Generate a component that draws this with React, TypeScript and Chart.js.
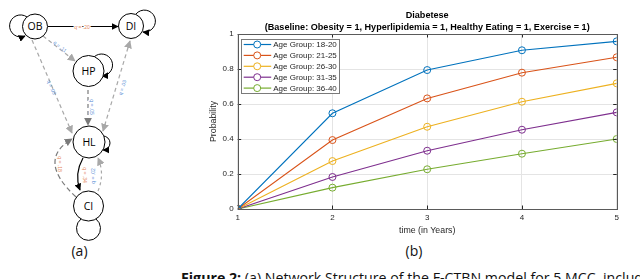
import React, { useEffect, useRef } from "react";
import { Chart, registerables } from "chart.js";

Chart.register(...registerables);

// ---- data ----
const years = [1, 2, 3, 4, 5];
const ageGroups = [
  "Age Group: 18-20",
  "Age Group: 21-25",
  "Age Group: 26-30",
  "Age Group: 31-35",
  "Age Group: 36-40",
];
const group1820 = [0, 0.547, 0.794, 0.907, 0.958];
const group2125 = [0, 0.394, 0.632, 0.779, 0.867];
const group2630 = [0, 0.274, 0.47, 0.613, 0.718];
const group3135 = [0, 0.183, 0.333, 0.453, 0.552];
const group3640 = [0, 0.122, 0.227, 0.316, 0.4];
const seriesValues = [group1820, group2125, group2630, group3135, group3640];
const seriesColors = ["#0072BD", "#D95319", "#EDB120", "#7E2F8E", "#77AC30"];
const titleLines = [
  "Diabetese",
  "(Baseline: Obesity = 1, Hyperlipidemia = 1, Healthy Eating = 1, Exercise = 1)",
];
const xLabel = "time (in Years)";
const yLabel = "Probability";

const FONT = "'Liberation Sans', Arial, Helvetica, sans-serif";
const AXIS = "#262626";

const boxPlugin = {
  id: "matlabBox",
  afterDatasetsDraw(chart: any) {
    const { ctx, chartArea: a, scales } = chart;
    ctx.save();
    ctx.strokeStyle = AXIS;
    ctx.lineWidth = 1;
    ctx.beginPath();
    const tl = 3.5;
    scales.x.ticks.forEach((t: any) => {
      const px = Math.round(scales.x.getPixelForValue(t.value)) + 0.5;
      ctx.moveTo(px, a.bottom);
      ctx.lineTo(px, a.bottom - tl);
      ctx.moveTo(px, a.top);
      ctx.lineTo(px, a.top + tl);
    });
    scales.y.ticks.forEach((t: any) => {
      const py = Math.round(scales.y.getPixelForValue(t.value)) + 0.5;
      ctx.moveTo(a.left, py);
      ctx.lineTo(a.left + tl, py);
      ctx.moveTo(a.right, py);
      ctx.lineTo(a.right - tl, py);
    });
    ctx.stroke();
    ctx.lineWidth = 1;
    ctx.strokeStyle = "#5a5a5a";
    ctx.strokeRect(
      Math.round(a.left) + 0.5,
      Math.round(a.top) + 0.5,
      Math.round(a.right) - Math.round(a.left),
      Math.round(a.bottom) - Math.round(a.top)
    );
    ctx.restore();
  },
  afterDraw(chart: any) {
    // legend drawn inside the plot area (north-west), MATLAB style
    const { ctx, chartArea: a } = chart;
    const x0 = a.left + 3.5;
    const y0 = a.top + 5;
    const w = 97.5;
    const h = 54;
    ctx.save();
    ctx.fillStyle = "#ffffff";
    ctx.fillRect(x0, y0, w, h);
    ctx.strokeStyle = "#7a7a7a";
    ctx.lineWidth = 1;
    ctx.strokeRect(Math.round(x0) + 0.5, Math.round(y0) + 0.5, Math.round(w), Math.round(h));
    ctx.font = `8px ${FONT}`;
    ctx.textBaseline = "middle";
    ctx.textAlign = "left";
    chart.data.datasets.forEach((ds: any, i: number) => {
      const yy = y0 + 5.5 + i * 10.9;
      ctx.strokeStyle = ds.borderColor;
      ctx.lineWidth = 1.2;
      ctx.beginPath();
      ctx.moveTo(x0 + 2.5, yy);
      ctx.lineTo(x0 + 30, yy);
      ctx.stroke();
      ctx.beginPath();
      ctx.fillStyle = "#fff";
      ctx.arc(x0 + 16, yy, 3.5, 0, Math.PI * 2);
      ctx.fill();
      ctx.lineWidth = 1;
      ctx.stroke();
      ctx.fillStyle = AXIS;
      ctx.fillText(ds.label, x0 + 32, yy + 0.5);
    });
    ctx.restore();
  },
};

function DiagramAndCaptions() {
  const gray = "#a8a8a8";
  const dark = "#7a7a7a";
  const blue = "#5b8fd6";
  const orange = "#e48a5e";
  const lbl = { fontSize: 5, fontFamily: FONT } as any;
  const sans = "'Open Sans', 'DejaVu Sans', sans-serif";
  return (
    <svg
      width={640}
      height={279}
      style={{ position: "absolute", left: 0, top: 0 }}
      xmlns="http://www.w3.org/2000/svg"
    >
      <defs>
        <marker id="ab" viewBox="0 0 10 10" refX="9" refY="5" markerWidth="7" markerHeight="7" orient="auto-start-reverse" markerUnits="userSpaceOnUse">
          <path d="M0,0 L10,5 L0,10 z" fill="#000" />
        </marker>
        <marker id="ag" viewBox="0 0 10 10" refX="9" refY="5" markerWidth="8" markerHeight="8" orient="auto-start-reverse" markerUnits="userSpaceOnUse">
          <path d="M0,0 L10,5 L0,10 z" fill={gray} />
        </marker>
        <marker id="ad" viewBox="0 0 10 10" refX="9" refY="5" markerWidth="8" markerHeight="8" orient="auto-start-reverse" markerUnits="userSpaceOnUse">
          <path d="M0,0 L10,5 L0,10 z" fill={dark} />
        </marker>
      </defs>
      {/* self loops */}
      <path d="M 27 17 A 11 11 0 1 0 25 36" fill="none" stroke="#000" strokeWidth={1} markerEnd="url(#ab)" />
      <path d="M 136 14 A 11 11 0 1 1 143 32" fill="none" stroke="#000" strokeWidth={1} markerEnd="url(#ab)" />
      <path d="M 94 57 A 11 11 0 1 1 102 76" fill="none" stroke="#000" strokeWidth={1} markerEnd="url(#ab)" />
      <path d="M 103 136 A 7 7 0 1 1 103 150" fill="none" stroke="#000" strokeWidth={1} markerEnd="url(#ab)" />
      <path d="M 81 219 A 12 12 0 1 0 96 219" fill="none" stroke="#000" strokeWidth={1} />
      {/* edges */}
      <line x1={48} y1={26.5} x2={118} y2={26.5} stroke="#000" strokeWidth={1} markerEnd="url(#ab)" />
      <line x1={43} y1={36} x2={75} y2={61} stroke={gray} strokeWidth={1.2} strokeDasharray="4 3" markerEnd="url(#ag)" />
      <line x1={32} y1={40} x2={72} y2={133} stroke={gray} strokeWidth={1.2} strokeDasharray="4 3" markerEnd="url(#ag)" />
      <line x1={88} y1={90} x2={88} y2={125} stroke={dark} strokeWidth={1.2} strokeDasharray="4 3" markerEnd="url(#ad)" />
      <line x1={130} y1={41} x2={103} y2={131} stroke={gray} strokeWidth={1.2} strokeDasharray="4 3" markerStart="url(#ag)" markerEnd="url(#ag)" />
      <path d="M 83 158 Q 74 174 80 190" fill="none" stroke="#000" strokeWidth={1.2} markerEnd="url(#ab)" />
      <path d="M 76 197 Q 36 160 72 139" fill="none" stroke={dark} strokeWidth={1.2} strokeDasharray="5 3" markerEnd="url(#ad)" />
      <path d="M 98 191 Q 105 174 98 158" fill="none" stroke={gray} strokeWidth={1.2} strokeDasharray="3 3" markerEnd="url(#ag)" />
      {/* edge labels */}
      <text x={82} y={28.5} textAnchor="middle" fill={orange} stroke="#fff" strokeWidth={2} paintOrder="stroke" {...lbl}>q = .20</text>
      <text x={0} y={0} transform="translate(59,48) rotate(38)" textAnchor="middle" fill={blue} {...lbl}>q = .11</text>
      <text x={0} y={0} transform="translate(50,88) rotate(67)" textAnchor="middle" fill={blue} {...lbl}>q = .03</text>
      <text x={0} y={0} transform="translate(90,107) rotate(90)" textAnchor="middle" fill={blue} stroke="#fff" strokeWidth={2} paintOrder="stroke" {...lbl}>q = .05</text>
      <text x={0} y={0} transform="translate(124,88) rotate(-73)" textAnchor="middle" fill={blue} {...lbl}>q = .03</text>
      <text x={0} y={0} transform="translate(83,175) rotate(90)" textAnchor="middle" fill={orange} {...lbl}>q = .34</text>
      <text x={0} y={0} transform="translate(58,164) rotate(90)" textAnchor="middle" fill={orange} {...lbl}>q = .18</text>
      <text x={0} y={0} transform="translate(95,176) rotate(-90)" textAnchor="middle" fill={blue} {...lbl}>q = .02</text>
      {/* nodes */}
      {[
        { n: "OB", x: 35, y: 26.5, r: 12.5 },
        { n: "DI", x: 131, y: 26, r: 12.5 },
        { n: "HP", x: 88.5, y: 71, r: 15.5 },
        { n: "HL", x: 89, y: 142, r: 16 },
        { n: "CI", x: 88.5, y: 206, r: 15 },
      ].map((d) => (
        <g key={d.n}>
          <circle cx={d.x} cy={d.y} r={d.r} fill="#fff" stroke="#000" strokeWidth={1} />
          <text x={d.x} y={d.y + 3.8} textAnchor="middle" fontSize={10.5} fontFamily={sans} fill="#000">{d.n}</text>
        </g>
      ))}
      {/* panel labels */}
      <text x={79.5} y={255.5} textAnchor="middle" fontSize={14} fontFamily={sans} fill="#111">(a)</text>
      <text x={414} y={255.5} textAnchor="middle" fontSize={14} fontFamily={sans} fill="#111">(b)</text>
      <text x={181} y={283} fontSize={14.2} fontFamily={sans} fill="#111">
        <tspan fontWeight="bold">Figure 2:</tspan>
        <tspan> (a) Network Structure of the F-CTBN model for 5 MCC, including</tspan>
      </text>
    </svg>
  );
}

export default function App() {
  const ref = useRef<HTMLCanvasElement | null>(null);

  useEffect(() => {
    if (!ref.current) return;
    const tickFont = { family: FONT, size: 8 };
    const labelFont = { family: FONT, size: 8.8, lineHeight: 1.2 };
    const chart = new Chart(ref.current, {
      type: "line",
      data: {
        datasets: seriesValues.map((vals, i) => ({
          label: ageGroups[i],
          data: years.map((x, j) => ({ x, y: vals[j] })),
          borderColor: seriesColors[i],
          backgroundColor: "rgba(0,0,0,0)",
          borderWidth: 1.1,
          pointRadius: 3.5,
          pointBorderWidth: 1,
          pointBackgroundColor: "rgba(0,0,0,0)",
          pointBorderColor: seriesColors[i],
          tension: 0,
          fill: false,
        })),
      },
      options: {
        responsive: false,
        animation: false,
        devicePixelRatio: 1,
        layout: { padding: { top: 0, left: 0, right: 23.3, bottom: 0 } },
        plugins: {
          legend: { display: false },
          tooltip: { enabled: false },
          title: {
            display: true,
            text: titleLines,
            fullSize: false,
            color: "#000",
            font: { family: FONT, size: 9.1, weight: "bold", lineHeight: 12 / 9.1 },
            padding: { top: 9, bottom: 1 },
          },
        },
        scales: {
          x: {
            type: "linear",
            min: 1,
            max: 5,
            ticks: { stepSize: 1, padding: 4, font: tickFont, color: AXIS },
            grid: { color: "#e4e4e4", drawTicks: false, lineWidth: 1 },
            border: { display: false },
            title: {
              display: true,
              text: xLabel,
              color: AXIS,
              font: labelFont,
              padding: { top: 0, bottom: 3.7 },
            },
            afterFit: (s: any) => {
              s.height = 31;
            },
          },
          y: {
            type: "linear",
            min: 0,
            max: 1,
            ticks: {
              stepSize: 0.2,
              padding: 4,
              font: tickFont,
              color: AXIS,
              callback: (v: any) => String(Number(Number(v).toFixed(1))),
            },
            grid: { color: "#e4e4e4", drawTicks: false, lineWidth: 1 },
            border: { display: false },
            title: {
              display: true,
              text: yLabel,
              color: AXIS,
              font: labelFont,
              padding: { top: 18.7, bottom: 0 },
            },
            afterFit: (s: any) => {
              s.width = 47.7;
            },
          },
        },
      },
      plugins: [boxPlugin],
    } as any);
    return () => chart.destroy();
  }, []);

  return (
    <div
      style={{
        position: "absolute",
        left: 0,
        top: 0,
        width: 640,
        height: 279,
        overflow: "hidden",
        background: "#fff",
      }}
    >
      <DiagramAndCaptions />
      <canvas
        ref={ref}
        width={450}
        height={240}
        style={{ position: "absolute", left: 190, top: 0, width: 450, height: 240 }}
      />
    </div>
  );
}
